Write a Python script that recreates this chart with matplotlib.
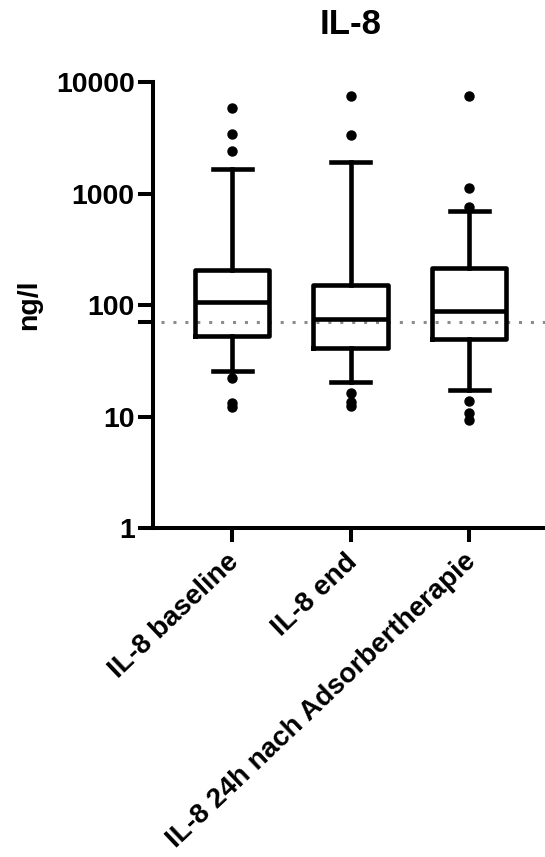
import matplotlib
matplotlib.use("Agg")
import matplotlib.pyplot as plt
from matplotlib.transforms import ScaledTranslation

plt.rcParams['font.family'] = ['Liberation Sans', 'DejaVu Sans']

title = "IL-8"
ylabel = "ng/l"
categories = ["IL-8 baseline", "IL-8 end", "IL-8 24h nach Adsorbertherapie"]
q1 = [52.8, 41.2, 50.1]
median = [107, 74.8, 88.9]
q3 = [206, 151, 214]
whislo = [25.6, 20.4, 17.4]
whishi = [1655, 1915, 694]
fliers = [
    [5800, 3450, 2400, 22.1, 13.2, 12.1],
    [7530, 3350, 16.3, 13.6, 12.6],
    [7530, 1133, 754, 13.7, 10.9, 9.4],
]
reference_value = 70
yticks = [1, 10, 100, 1000, 10000]
ytick_labels = ["1", "10", "100", "1000", "10000"]

W, H = 545, 857
fig = plt.figure(figsize=(W / 100, H / 100), dpi=100)
ax = fig.add_axes([152.7 / W, 1 - 528.3 / H, (W - 152.7) / W, (528.3 - 82) / H])

stats = []
for i in range(len(categories)):
    stats.append(dict(med=median[i], q1=q1[i], q3=q3[i], whislo=whislo[i],
                      whishi=whishi[i], fliers=fliers[i], label=categories[i]))

lw = 3.3
ax.bxp(stats, positions=range(len(categories)), widths=0.63, showfliers=True,
       boxprops=dict(color='black', linewidth=lw),
       medianprops=dict(color='black', linewidth=lw, solid_capstyle='butt'),
       whiskerprops=dict(color='black', linewidth=lw),
       capprops=dict(color='black', linewidth=lw),
       capwidths=0.33,
       flierprops=dict(marker='o', markerfacecolor='black', markeredgecolor='black',
                       markersize=6.5, linestyle='none'))

ax.set_yscale('log')
ax.set_ylim(1, 10000)
ax.set_xlim(-0.67, 2.64)

ax.plot([-0.6, 2.64], [reference_value, reference_value], linestyle=(0, (1, 2.9)),
        color='#8c8c8c', linewidth=2.2, zorder=0)

ax.set_yticks(yticks + [reference_value])
ax.set_yticklabels(ytick_labels + [""])
ax.yaxis.set_minor_locator(matplotlib.ticker.NullLocator())
ax.set_xticks(range(len(categories)))
ax.set_xticklabels([""] * len(categories))

for lab in ax.get_yticklabels():
    lab.set_fontsize(20.5)
    lab.set_fontweight('bold')

# rotated category labels, anchored at the right end of their baseline
offset = ScaledTranslation(8 / 100, -35 / 100, fig.dpi_scale_trans)
for i, cat in enumerate(categories):
    ax.text(i, 0, cat, transform=ax.get_xaxis_transform() + offset,
            rotation=43.5, ha='right', va='baseline', rotation_mode='anchor',
            fontsize=20, fontweight='bold', clip_on=False)

ax.tick_params(axis='y', length=11, width=2.9, pad=2)
ax.tick_params(axis='x', length=10, width=2.9)

for s in ['top', 'right']:
    ax.spines[s].set_visible(False)
for s in ['left', 'bottom']:
    ax.spines[s].set_linewidth(2.9)

ax.set_ylabel(ylabel, fontsize=20.5, fontweight='bold', labelpad=10)
fig.text(351 / W, 1 - 24 / H, title, ha='center', va='center', fontsize=25, fontweight='bold')

fig.savefig("out.png", dpi=100)
